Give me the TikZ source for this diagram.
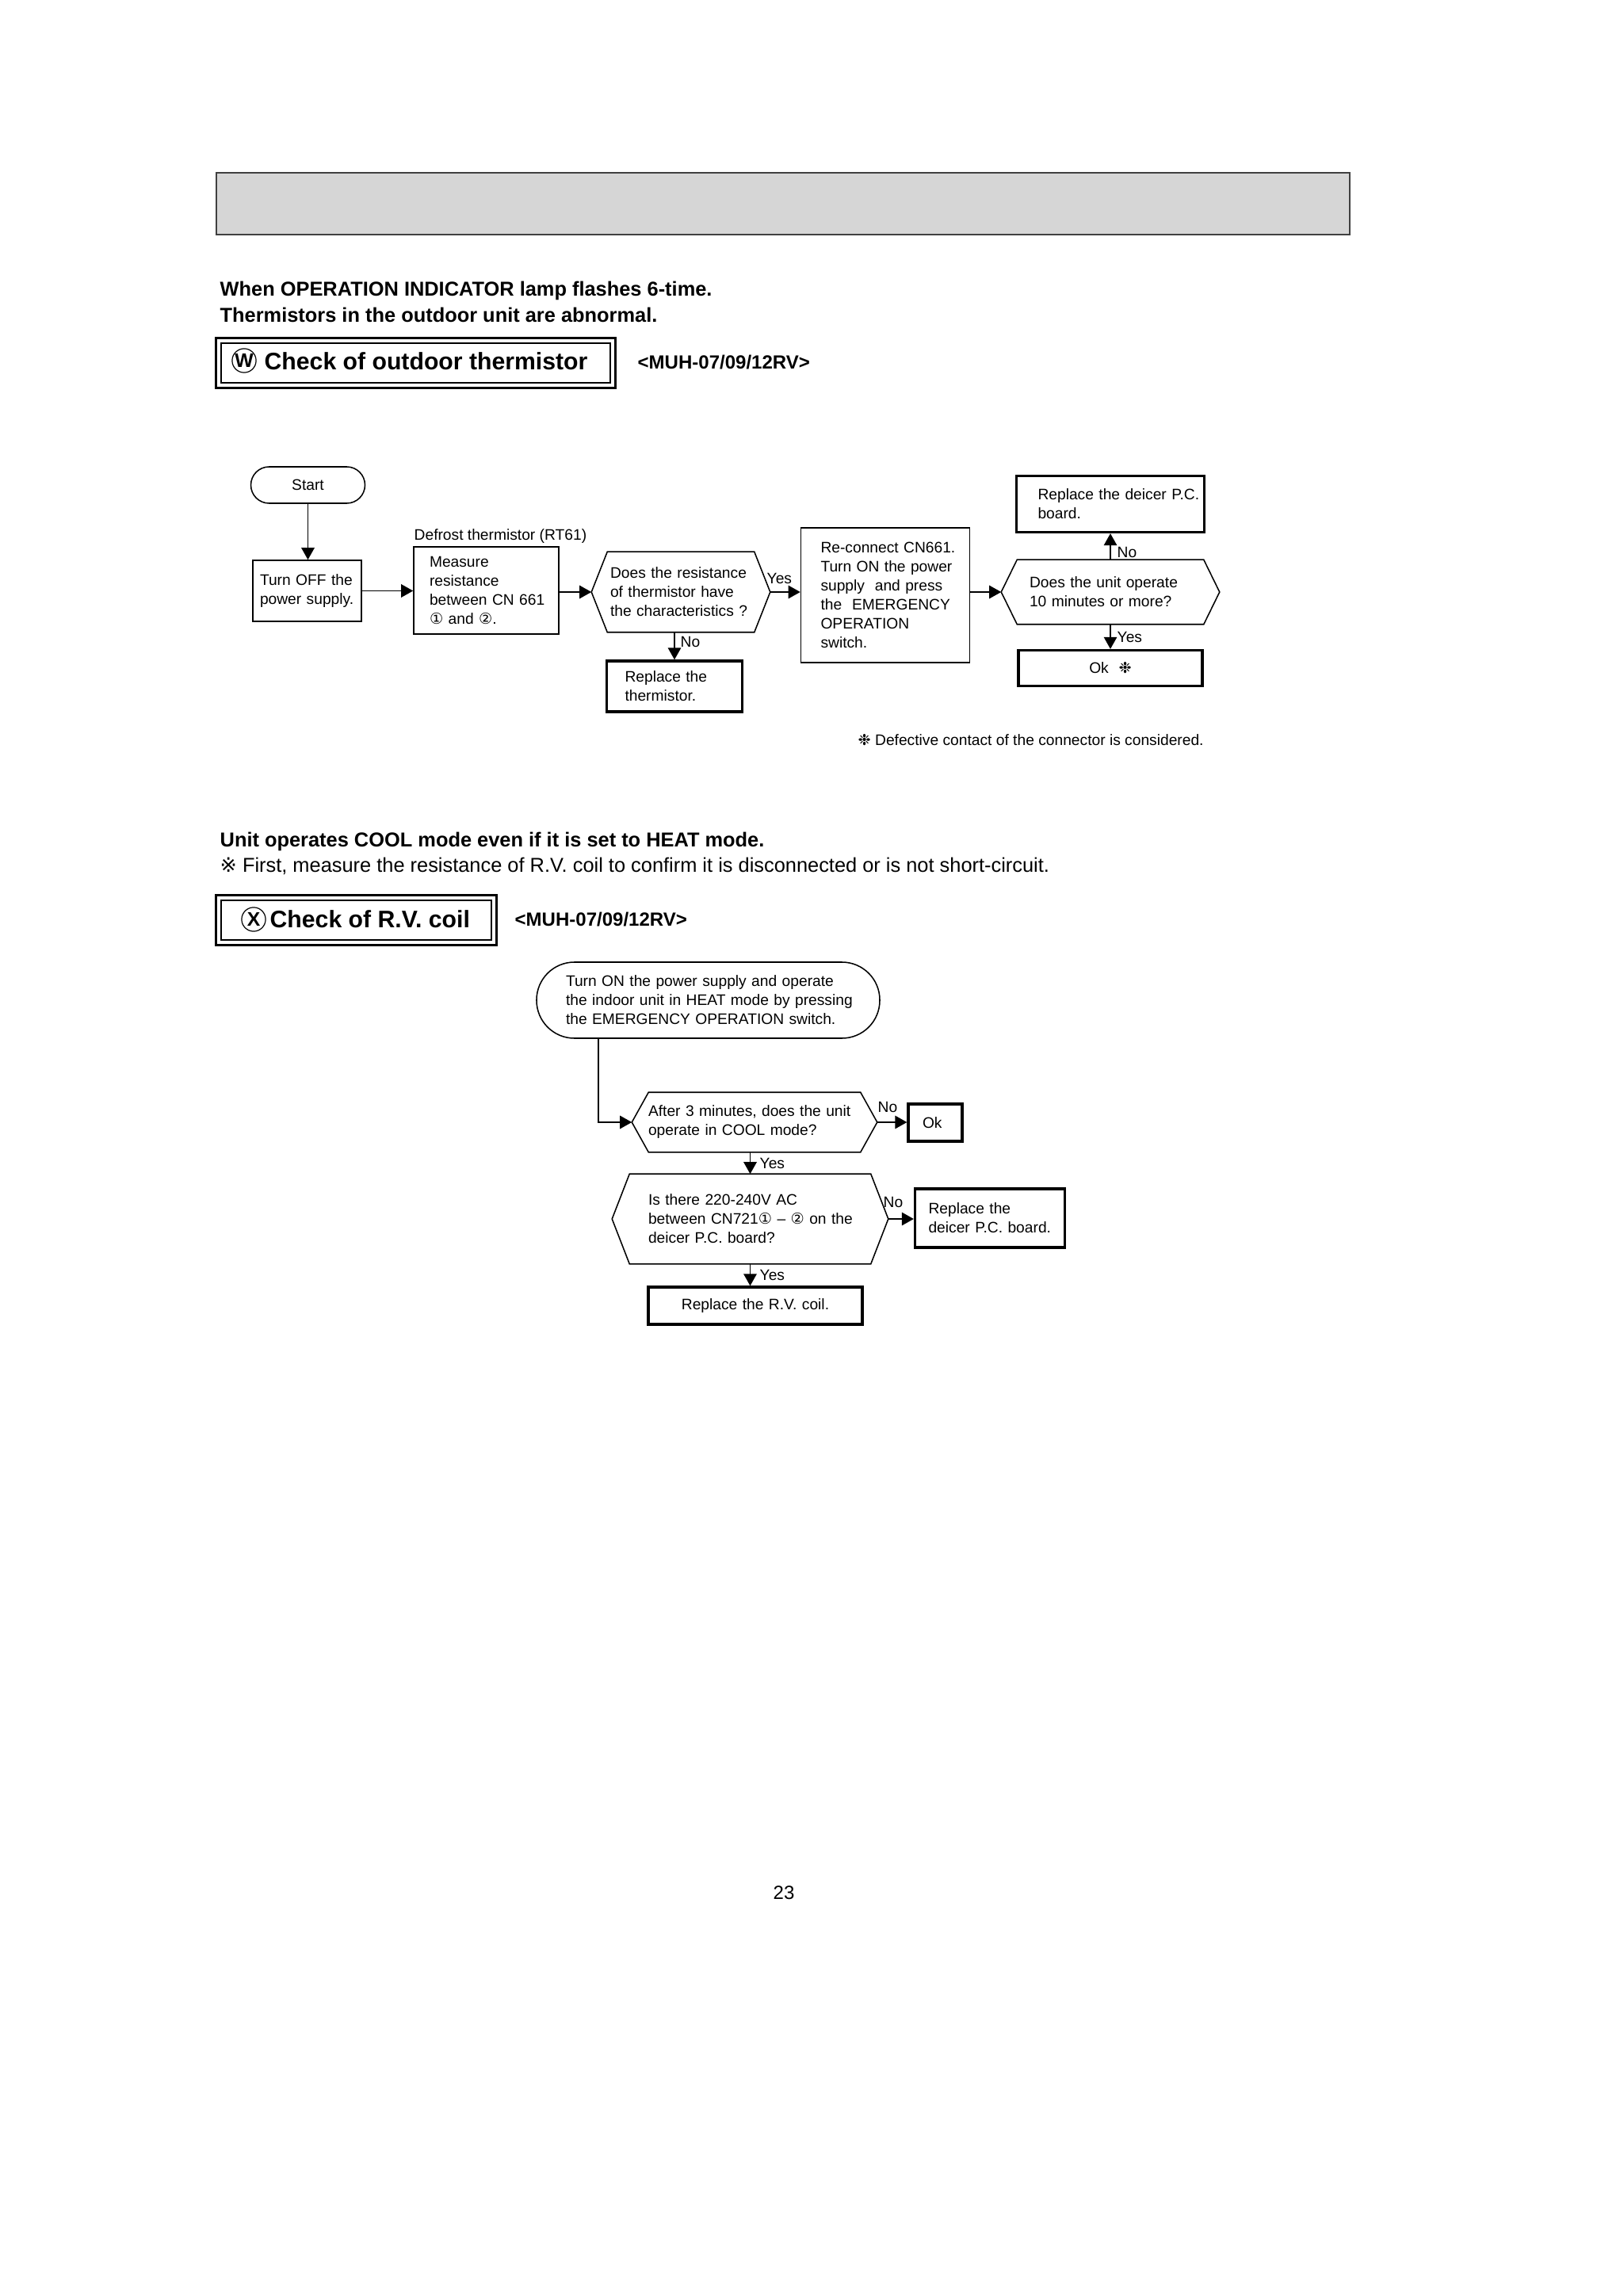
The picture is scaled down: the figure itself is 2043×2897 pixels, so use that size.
\documentclass[tikz,border=0pt]{standalone}
\usepackage{fontspec}
\setmainfont{Liberation Sans}
\newfontfamily\djv{DejaVu Sans}
\usetikzlibrary{arrows.meta,calc}
\newdimen\pxu
\pxu=0.2914pt
\tikzset{
  ft/.style={font=\fontsize{5.6}{7}\selectfont},
  bx/.style n args={3}{draw, rectangle, line width=0.45pt, minimum width=#1*\pxu, minimum height=#2*\pxu, text width=(#1-2*#3)*\pxu, inner xsep=#3*\pxu, inner ysep=0pt, align=left, ft},
  tbx/.style n args={3}{bx={#1}{#2}{#3}, line width=0.95pt},
  hx/.style n args={3}{bx={#1}{#2}{#3}, draw=none},
  arr/.style={line width=0.5pt, -{Triangle[length=4.4pt,width=4.8pt]}},
  lbl/.style={ft, inner sep=0pt, anchor=west},
  hd/.style={font=\bfseries\fontsize{7.4}{9}\selectfont, inner sep=0pt, anchor=west},
  ttl/.style={font=\bfseries\fontsize{8.8}{10}\selectfont, inner sep=0pt, anchor=west},
  circ/.style={circle, draw, line width=0.35pt, inner sep=0pt, minimum size=8.8pt, font=\bfseries\fontsize{7.2}{7}\selectfont},
}
\newcommand\hexdraw[2]{\draw[line width=0.45pt] (#1.west) -- ($(#1.north west)+(#2,0)$) -- ($(#1.north east)+(-#2,0)$) -- (#1.east) -- ($(#1.south east)+(-#2,0)$) -- ($(#1.south west)+(#2,0)$) -- cycle;}
\begin{document}
\begin{tikzpicture}[x=0.2914pt,y=-0.2914pt]
\useasboundingbox[fill=white] (0,0) rectangle (2043,2897);
% header band
\node[draw=black!75, fill=black!16, line width=0.6pt, minimum width=1430*\pxu, minimum height=78*\pxu, inner sep=0pt] (hdr) at (988,257) {};
\node[hd] (h1) at (277,367) {When OPERATION INDICATOR lamp flashes 6-time.};
\node[hd] (h2) at (277,397) {Thermistors in the outdoor unit are abnormal.};
% title 1
\node[draw, line width=0.4pt, minimum width=491*\pxu, minimum height=50*\pxu, inner sep=0pt] (t1) at (524.5,458) {};
\draw[line width=0.9pt] ($(t1.north west)+(-6,-6)$) rectangle ($(t1.south east)+(6,6)$);
\node[circ] (cw) at (308,455) {W};
\node[ttl] (t1txt) at (333,456) {Check of outdoor thermistor};
\node[hd, font=\bfseries\fontsize{7}{9}\selectfont] (m1) at (804,457) {<MUH-07/09/12RV>};
% flowchart 1
\node[bx={144}{46}{0}, align=center, rounded corners=6.7pt] (start) at (388.5,612) {Start};
\node[bx={137}{77}{9}] (turn) at (387.5,745.5) {\mbox{Turn OFF the}\\\mbox{power supply.}};
\node[lbl] (defr) at (522,677) {Defrost thermistor (RT61)};
\node[bx={183}{110}{20}] (meas) at (613.5,745) {\mbox{Measure}\\\mbox{resistance}\\\mbox{between CN 661}\\\mbox{{\djv ①} and {\djv ②}.}};
\node[hx={224}{100}{23}] (hex1) at (859,747) {\mbox{Does the resistance}\\\mbox{of thermistor have}\\\mbox{the characteristics ?}};
\hexdraw{hex1}{20}
\node[tbx={171}{64}{23}] (rthm) at (851,866) {\mbox{Replace the}\\\mbox{thermistor.}};
\node[bx={213}{170}{25}] (recon) at (1117,751) {\mbox{Re-connect CN661.}\\\mbox{Turn ON the power}\\\mbox{supply\ \ and press}\\\mbox{the\ \ EMERGENCY}\\\mbox{OPERATION}\\\mbox{switch.}};
\node[hx={274}{80}{35}] (hex2) at (1401,747) {\mbox{Does the unit operate}\\\mbox{10 minutes or more?}};
\hexdraw{hex2}{20}
\node[tbx={237}{71}{27}] (rdeic) at (1401,636) {\mbox{Replace the deicer P.C.}\\\mbox{board.}};
\node[tbx={232}{45}{0}, align=center] (ok1) at (1401,843) {Ok\ \ {\djv ❉}};
\draw[arr] (start.south) -- (start.south |- turn.north);
\draw[arr] (turn.east) -- (turn.east -| meas.west);
\draw[arr] (meas.east |- hex1.west) -- (hex1.west);
\draw[arr] (hex1.east) -- (hex1.east -| recon.west);
\draw[arr] (recon.east |- hex2.west) -- (hex2.west);
\draw[arr] (hex2.north) -- (rdeic.south);
\draw[arr] (hex2.south) -- (ok1.north);
\draw[arr] (rthm.north |- hex1.south) -- (rthm.north);
\node[lbl] (y1) at (967,730) {Yes};
\node[lbl] (n1) at (858,810) {No};
\node[lbl] (n2) at (1409,697) {No};
\node[lbl] (y2) at (1409,804) {Yes};
\node[lbl] (fn) at (1082,934) {{\djv ❉} Defective contact of the connector is considered.};
% section 2
\node[hd] (h3) at (277,1062) {Unit operates COOL mode even if it is set to HEAT mode.};
\node[hd, font=\fontsize{7.4}{9}\selectfont] (h4) at (277,1093) {{\djv ※} First, measure the resistance of R.V. coil to confirm it is disconnected or is not short-circuit.};
\node[draw, line width=0.4pt, minimum width=341*\pxu, minimum height=50*\pxu, inner sep=0pt] (t2) at (449.5,1161) {};
\draw[line width=0.9pt] ($(t2.north west)+(-6,-6)$) rectangle ($(t2.south east)+(6,6)$);
\node[circ] (cx) at (320,1160) {X};
\node[ttl] (t2txt) at (340,1160) {Check of R.V. coil};
\node[hd, font=\bfseries\fontsize{7}{9}\selectfont] (m2) at (649,1160) {<MUH-07/09/12RV>};
% flowchart 2
\node[bx={433}{96}{37}, rounded corners=13.9pt] (st2) at (893.5,1262) {\mbox{Turn ON the power supply and operate}\\\mbox{the indoor unit in HEAT mode by pressing}\\\mbox{the EMERGENCY OPERATION switch.}};
\node[hx={308}{74}{20}] (hex3) at (952,1416) {\mbox{After 3 minutes, does the unit}\\\mbox{operate in COOL mode?}};
\hexdraw{hex3}{21}
\node[tbx={68}{47}{18}] (ok2) at (1180,1416.5) {Ok};
\node[hx={347}{112}{45}] (hex4) at (946.5,1538) {\mbox{Is there 220-240V AC}\\\mbox{between CN721{\djv ①} – {\djv ②} on the}\\\mbox{deicer P.C. board?}};
\hexdraw{hex4}{22}
\node[tbx={189}{74}{17}] (rd2) at (1249,1537) {\mbox{Replace the}\\\mbox{deicer P.C. board.}};
\node[tbx={270}{47}{0}, align=center] (rv) at (953,1647.5) {Replace the R.V. coil.};
\draw[arr] ($(st2.south west)+(79,0)$) |- (hex3.west);
\draw[arr] (hex3.east) -- (hex3.east -| ok2.west);
\draw[arr] (hex4.north |- hex3.south) -- (hex4.north);
\draw[arr] (hex4.east) -- (hex4.east -| rd2.west);
\draw[arr] (hex4.south) -- (hex4.south |- rv.north);
\node[lbl] (n3) at (1107,1397) {No};
\node[lbl] (y3) at (958,1468) {Yes};
\node[lbl] (n4) at (1114,1517) {No};
\node[lbl] (y4) at (958,1609) {Yes};
% page number
\node[font=\fontsize{7}{8}\selectfont, inner sep=0pt] (pg) at (989,2388) {23};
\end{tikzpicture}
\end{document}
